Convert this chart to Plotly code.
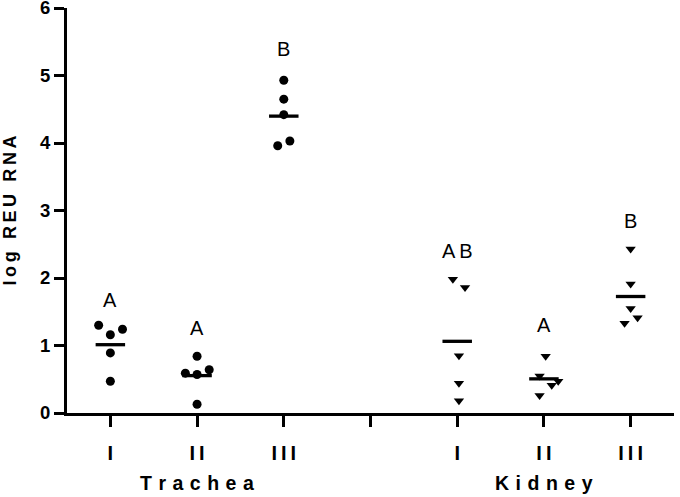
import numpy as np
import plotly.graph_objects as go

# ---- data ----
tick_labels = ["I", "II", "III", "", "I", "II", "III"]
tissues = ["Trachea", "Kidney"]

trachea_I = [1.30, 1.16, 1.24, 0.89, 0.47]
trachea_II = [0.84, 0.59, 0.57, 0.64, 0.13]
trachea_III = [4.93, 4.65, 4.42, 3.96, 4.03]
kidney_I = [1.98, 1.86, 0.85, 0.44, 0.18]
kidney_II = [0.84, 0.55, 0.41, 0.47, 0.26]
kidney_III = [2.43, 1.91, 1.55, 1.33, 1.41]

group_letters = ["A", "A", "B", "A\u2009B", "A", "B"]
letter_levels = [1.68, 1.26, 5.39, 2.40, 1.31, 2.85]

# horizontal scatter of the dots within each column (as drawn)
jitter = [
    [-0.135, 0, 0.14, 0, 0],
    [0, -0.135, 0, 0.14, 0],
    [0, 0, 0, -0.07, 0.07],
    [-0.05, 0.09, 0.02, 0.02, 0.02],
    [0.02, -0.05, 0.09, 0.165, -0.05],
    [0, 0, 0, -0.07, 0.08],
]

groups = [trachea_I, trachea_II, trachea_III, kidney_I, kidney_II, kidney_III]
positions = [1, 2, 3, 5, 6, 7]
symbols = ["circle"] * 3 + ["triangle-down"] * 3

FONT = "Liberation Sans, Arial"

fig = go.Figure()
for vals, pos, sym, jit in zip(groups, positions, symbols, jitter):
    fig.add_trace(go.Scatter(
        x=[pos + j for j in jit], y=vals, mode="markers",
        marker=dict(symbol=sym, size=9, color="black", line=dict(width=0)),
        showlegend=False, hoverinfo="skip", cliponaxis=False))
    m = float(np.mean(vals))
    fig.add_trace(go.Scatter(
        x=[pos - 0.17, pos + 0.17], y=[m, m], mode="lines",
        line=dict(color="black", width=3.3), showlegend=False, hoverinfo="skip"))

for pos, lab, lev in zip(positions, group_letters, letter_levels):
    fig.add_annotation(x=pos, y=lev, text=lab, showarrow=False,
                       font=dict(family=FONT, size=20, color="black"),
                       xanchor="center", yanchor="middle")

for name, pos in zip(tissues, [2, 6]):
    spaced = "\u2004".join(list(name))
    fig.add_annotation(x=pos, xref="x", y=-0.1717, yref="paper", text="<b>" + spaced + "</b>",
                       showarrow=False, xanchor="center", yanchor="middle",
                       font=dict(family=FONT, size=19.5, color="black"))

fig.update_layout(
    width=680, height=497,
    margin=dict(l=67, r=6, t=8, b=84, autoexpand=False),
    paper_bgcolor="white", plot_bgcolor="white",
    font=dict(family=FONT, color="black"),
)
fig.update_xaxes(
    range=[0.5, 7.5], tickmode="array", tickvals=[1, 2, 3, 4, 5, 6, 7],
    ticktext=["<b>" + "\u2009".join(list(t)) + "</b>" if t else "" for t in tick_labels],
    showline=True, linecolor="black", linewidth=3, ticks="outside",
    ticklen=11, tickwidth=3, tickcolor="black", showgrid=False, zeroline=False,
    tickfont=dict(size=20, color="black"), ticklabelstandoff=9,
    automargin=False, ticklabeloverflow="allow",
)
fig.update_yaxes(
    range=[0, 6], tickmode="array", tickvals=[0, 1, 2, 3, 4, 5, 6],
    ticktext=["<b>%d</b>" % v for v in range(7)],
    showline=True, linecolor="black", linewidth=3, ticks="outside",
    ticklen=10, tickwidth=3, tickcolor="black", showgrid=False, zeroline=False,
    tickfont=dict(size=18.5, color="black"),
    automargin=False, ticklabeloverflow="allow",
    title=dict(text="<b>" + "\u2009".join(list("log REU RNA")) + "</b>",
               font=dict(size=18, color="black"), standoff=20),
)
fig.write_html("out.html", config={"displayModeBar": False},
               post_script="document.body.style.margin='0';document.body.style.overflow='hidden';")
